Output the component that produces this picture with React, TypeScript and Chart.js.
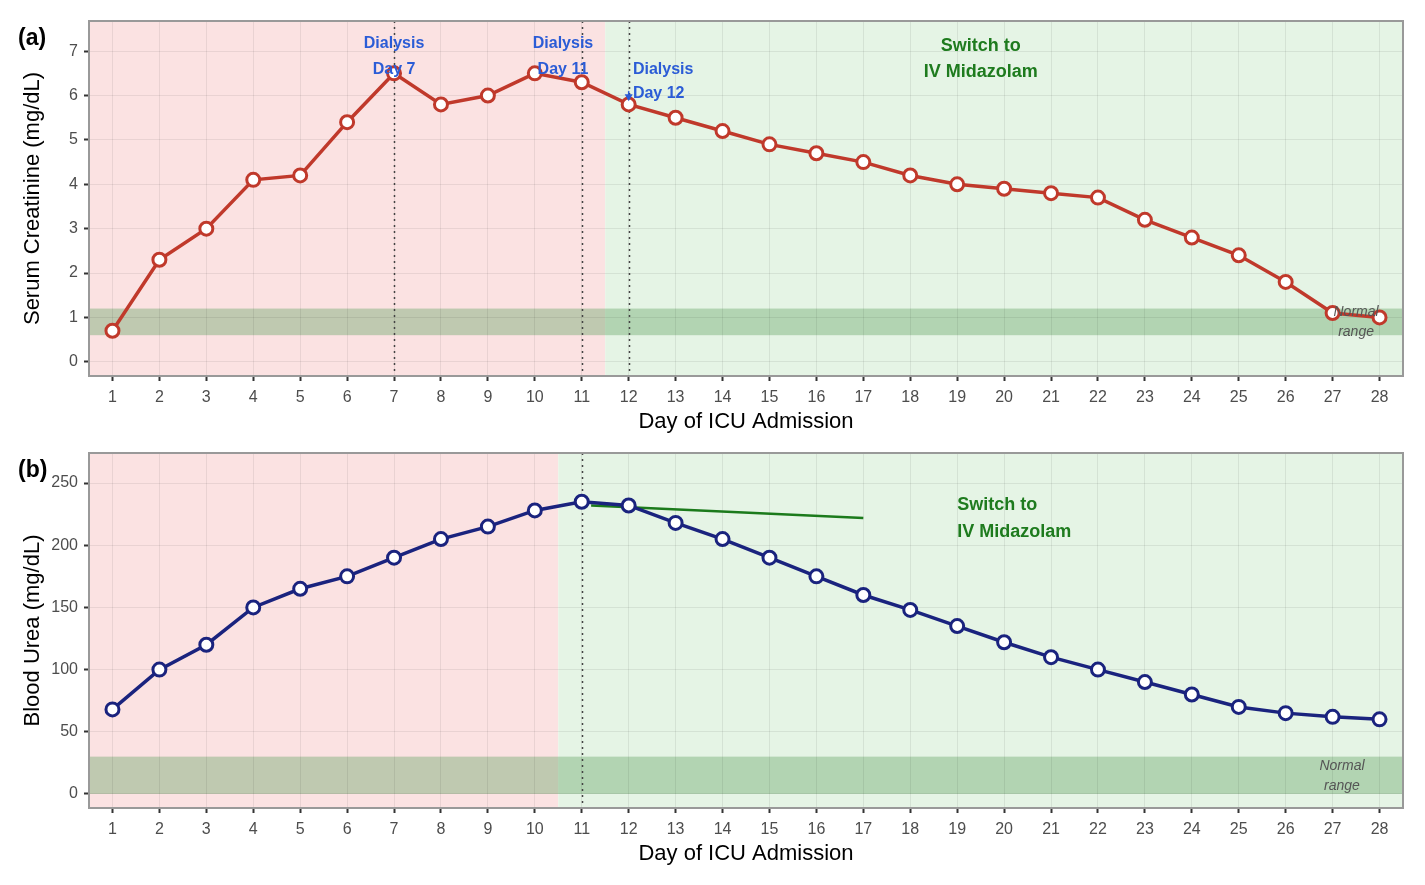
import React, { useEffect, useRef } from 'react';
import { Chart, registerables } from 'chart.js';

Chart.register(...registerables);

// ---- data ----
const days = [1, 2, 3, 4, 5, 6, 7, 8, 9, 10, 11, 12, 13, 14, 15, 16, 17, 18, 19, 20, 21, 22, 23, 24, 25, 26, 27, 28];
const creatinine = [0.7, 2.3, 3.0, 4.1, 4.2, 5.4, 6.5, 5.8, 6.0, 6.5, 6.3, 5.8, 5.5, 5.2, 4.9, 4.7, 4.5, 4.2, 4.0, 3.9, 3.8, 3.7, 3.2, 2.8, 2.4, 1.8, 1.1, 1.0];
const urea = [68, 100, 120, 150, 165, 175, 190, 205, 215, 228, 235, 232, 218, 205, 190, 175, 160, 148, 135, 122, 110, 100, 90, 80, 70, 65, 62, 60];
const creatinineTicks = [0, 1, 2, 3, 4, 5, 6, 7];
const ureaTicks = [0, 50, 100, 150, 200, 250];
const ureaTrendDays = [11.2, 17];
const ureaTrend = [232, 222];
const creatinineNormal = [0.6, 1.2];
const ureaNormal = [0, 30];
const dialysisDays = [7, 11, 12];

const FONT = '"Liberation Sans", Arial, Helvetica, sans-serif';
const PINK = '#fbe2e2';
const GREEN = '#e5f4e5';
const BAND = 'rgba(95,160,95,0.38)';
const GRID = 'rgba(0,0,0,0.07)';
const BLUE_TXT = '#2b5cd6';
const GREEN_TXT = '#1e7b1e';

type Note = { x: number; y: number; text: string; color: string; font: string; align: CanvasTextAlign };

const blueFont = `bold 16px ${FONT}`;
const greenFont = `bold 18px ${FONT}`;
const normFont = `italic 14px ${FONT}`;

const notesA: Note[] = [
  { x: 7, y: 7.16, text: 'Dialysis', color: BLUE_TXT, font: blueFont, align: 'center' },
  { x: 7, y: 6.59, text: 'Day 7', color: BLUE_TXT, font: blueFont, align: 'center' },
  { x: 10.6, y: 7.16, text: 'Dialysis', color: BLUE_TXT, font: blueFont, align: 'center' },
  { x: 10.6, y: 6.59, text: 'Day 11', color: BLUE_TXT, font: blueFont, align: 'center' },
  { x: 12.09, y: 6.59, text: 'Dialysis', color: BLUE_TXT, font: blueFont, align: 'left' },
  { x: 12.09, y: 6.05, text: 'Day 12', color: BLUE_TXT, font: blueFont, align: 'left' },
  { x: 19.5, y: 7.11, text: 'Switch to', color: GREEN_TXT, font: greenFont, align: 'center' },
  { x: 19.5, y: 6.53, text: 'IV Midazolam', color: GREEN_TXT, font: greenFont, align: 'center' },
  { x: 27.5, y: 1.12, text: 'Normal', color: '#555', font: normFont, align: 'center' },
  { x: 27.5, y: 0.67, text: 'range', color: '#555', font: normFont, align: 'center' },
];

const notesB: Note[] = [
  { x: 19.0, y: 232, text: 'Switch to', color: GREEN_TXT, font: greenFont, align: 'left' },
  { x: 19.0, y: 211, text: 'IV Midazolam', color: GREEN_TXT, font: greenFont, align: 'left' },
  { x: 27.2, y: 22.6, text: 'Normal', color: '#555', font: normFont, align: 'center' },
  { x: 27.2, y: 6.5, text: 'range', color: '#555', font: normFont, align: 'center' },
];

type Panel = {
  tag: string;
  yTitle: string;
  yTicks: number[];
  yMin: number;
  yMax: number;
  switchAt: number;
  normal: number[];
  vlines: number[];
  notes: Note[];
  arrowAt?: number[];
  datasets: any[];
};

const decor = (p: Panel) => ({
  id: 'decor',
  beforeDraw(chart: any) {
    const { ctx, chartArea: a, scales } = chart;
    const xs = scales.x.getPixelForValue(p.switchAt);
    ctx.save();
    ctx.fillStyle = PINK;
    ctx.fillRect(a.left, a.top, xs - a.left, a.bottom - a.top);
    ctx.fillStyle = GREEN;
    ctx.fillRect(xs, a.top, a.right - xs, a.bottom - a.top);
    const y1 = scales.y.getPixelForValue(p.normal[1]);
    const y0 = scales.y.getPixelForValue(p.normal[0]);
    ctx.fillStyle = BAND;
    ctx.fillRect(a.left, y1, a.right - a.left, y0 - y1);
    ctx.restore();
  },
  beforeDatasetsDraw(chart: any) {
    const { ctx, chartArea: a, scales } = chart;
    ctx.save();
    ctx.strokeStyle = '#444';
    ctx.lineWidth = 1.5;
    ctx.setLineDash([2, 4]);
    p.vlines.forEach((d) => {
      const px = Math.round(scales.x.getPixelForValue(d)) + 0.5;
      ctx.beginPath();
      ctx.moveTo(px, a.top);
      ctx.lineTo(px, a.bottom);
      ctx.stroke();
    });
    ctx.restore();
  },
  afterDatasetsDraw(chart: any) {
    const { ctx, scales } = chart;
    ctx.save();
    ctx.textBaseline = 'middle';
    p.notes.forEach((n) => {
      ctx.font = n.font;
      ctx.fillStyle = n.color;
      ctx.textAlign = n.align;
      ctx.fillText(n.text, scales.x.getPixelForValue(n.x), scales.y.getPixelForValue(n.y));
    });
    if (p.arrowAt) {
      const ax = scales.x.getPixelForValue(p.arrowAt[0]);
      const top = scales.y.getPixelForValue(p.arrowAt[1]);
      const tip = scales.y.getPixelForValue(p.arrowAt[2]);
      ctx.strokeStyle = BLUE_TXT;
      ctx.fillStyle = BLUE_TXT;
      ctx.lineWidth = 1.5;
      ctx.beginPath();
      ctx.moveTo(ax, top);
      ctx.lineTo(ax, tip - 4);
      ctx.stroke();
      ctx.beginPath();
      ctx.moveTo(ax - 4, tip - 7);
      ctx.lineTo(ax + 4, tip - 7);
      ctx.lineTo(ax, tip);
      ctx.closePath();
      ctx.fill();
    }
    ctx.restore();
  },
  afterDraw(chart: any) {
    const { ctx, chartArea: a } = chart;
    ctx.save();
    ctx.strokeStyle = '#999';
    ctx.lineWidth = 2;
    ctx.strokeRect(a.left, a.top, a.right - a.left, a.bottom - a.top);
    ctx.fillStyle = '#000';
    ctx.font = `bold 23px ${FONT}`;
    ctx.textAlign = 'left';
    ctx.textBaseline = 'middle';
    ctx.fillText(p.tag, 18, 39);
    ctx.restore();
  },
});

const buildConfig = (p: Panel): any => ({
  type: 'line',
  data: { datasets: p.datasets },
  options: {
    animation: false,
    responsive: false,
    layout: { padding: { top: 21, right: 22, bottom: 0, left: 0 } },
    plugins: { legend: { display: false }, tooltip: { enabled: false } },
    scales: {
      x: {
        type: 'linear',
        min: 0.5,
        max: 28.5,
        afterBuildTicks: (s: any) => {
          s.ticks = days.map((v) => ({ value: v }));
        },
        afterFit: (s: any) => {
          s.height = 64;
        },
        grid: { color: GRID, tickColor: '#333', tickLength: 5, tickWidth: 2, lineWidth: 1 },
        border: { display: false },
        ticks: { color: '#4d4d4d', font: { size: 16, family: FONT }, padding: 7, maxRotation: 0, autoSkip: false },
        title: {
          display: true,
          text: 'Day of ICU Admission',
          color: '#000',
          font: { size: 22, family: FONT, lineHeight: 1.2 },
          padding: { top: 0, bottom: 5 },
        },
      },
      y: {
        type: 'linear',
        min: p.yMin,
        max: p.yMax,
        afterBuildTicks: (s: any) => {
          s.ticks = p.yTicks.map((v) => ({ value: v }));
        },
        afterFit: (s: any) => {
          s.width = 89;
        },
        grid: { color: GRID, tickColor: '#333', tickLength: 5, tickWidth: 2, lineWidth: 1 },
        border: { display: false },
        ticks: { color: '#4d4d4d', font: { size: 16, family: FONT }, padding: 6 },
        title: {
          display: true,
          text: p.yTitle,
          color: '#000',
          font: { size: 22, family: FONT, lineHeight: 1.2 },
          padding: { top: 20, bottom: 0 },
        },
      },
    },
  },
  plugins: [decor(p)],
});

const pointStyle = (color: string) => ({
  borderColor: color,
  borderWidth: 3.5,
  pointRadius: 6.5,
  pointBorderWidth: 3,
  pointBackgroundColor: '#fff',
  pointBorderColor: color,
  tension: 0,
});

const panelA: Panel = {
  tag: '(a)',
  yTitle: 'Serum Creatinine (mg/dL)',
  yTicks: creatinineTicks,
  yMin: -0.32,
  yMax: 7.68,
  switchAt: 11.5,
  normal: creatinineNormal,
  vlines: dialysisDays,
  notes: notesA,
  arrowAt: [12, 6.1, 5.87],
  datasets: [
    {
      data: days.map((d, i) => ({ x: d, y: creatinine[i] })),
      ...pointStyle('#c0392b'),
    },
  ],
};

const panelB: Panel = {
  tag: '(b)',
  yTitle: 'Blood Urea (mg/dL)',
  yTicks: ureaTicks,
  yMin: -11.3,
  yMax: 274.2,
  switchAt: 10.5,
  normal: ureaNormal,
  vlines: [11],
  notes: notesB,
  datasets: [
    {
      data: days.map((d, i) => ({ x: d, y: urea[i] })),
      ...pointStyle('#1a237e'),
    },
    {
      data: ureaTrendDays.map((d, i) => ({ x: d, y: ureaTrend[i] })),
      borderColor: '#1b7a1b',
      borderWidth: 2.5,
      pointRadius: 0,
    },
  ],
};

const PanelChart: React.FC<{ panel: Panel; top: number }> = ({ panel, top }) => {
  const canvasRef = useRef<HTMLCanvasElement>(null);

  useEffect(() => {
    if (!canvasRef.current) return;
    const chart = new Chart(canvasRef.current, buildConfig(panel));
    return () => chart.destroy();
  }, [panel]);

  return (
    <canvas
      ref={canvasRef}
      width={1425}
      height={440}
      style={{ position: 'absolute', left: 0, top, width: 1425, height: 440 }}
    />
  );
};

const App: React.FC = () => (
  <div style={{ position: 'absolute', left: 0, top: 0, width: 1425, height: 885, background: '#fff' }}>
    <PanelChart panel={panelA} top={0} />
    <PanelChart panel={panelB} top={432} />
  </div>
);

export default App;
